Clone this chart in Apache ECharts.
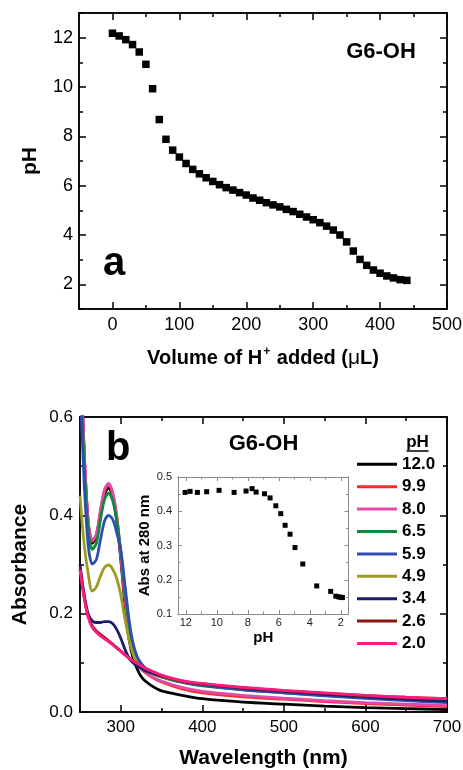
<!DOCTYPE html>
<html><head><meta charset="utf-8">
<script src="https://cdn.jsdelivr.net/npm/echarts@6/dist/echarts.min.js"></script>
<style>html,body{margin:0;padding:0;background:#fff}#c{width:463px;height:770px}</style>
</head><body><div id="c"></div>
<script>
// ---------- Panel a : titration curve ----------
const volumeAdded = [0,10,20,30,40,50,60,70,80,90,100,110,120,130,140,150,160,170,180,190,200,210,220,230,240,250,260,270,280,290,300,310,320,330,340,350,360,370,380,390,400,410,420,430,440];
const pHa = [12.18,12.07,11.92,11.72,11.42,10.92,9.93,8.68,7.88,7.44,7.16,6.90,6.66,6.48,6.32,6.17,6.04,5.92,5.82,5.72,5.62,5.50,5.41,5.31,5.22,5.14,5.04,4.95,4.84,4.73,4.62,4.50,4.36,4.20,4.00,3.72,3.35,3.01,2.77,2.58,2.45,2.34,2.26,2.19,2.16];
const aXTicks = [0,100,200,300,400,500];
const aXMinor = [-50,50,150,250,350,450];
const aYTicks = [2,4,6,8,10,12];
const aYMinor = [1,3,5,7,9,11,13];

// ---------- Panel b : UV-vis spectra ----------
const wavelengths = [250,255,260,265,270,275,280,285,290,295,300,305,310,315,320,325,330,340,350,375,400,450,500,550,600,650,700];
const abs120 = [0.76,0.53,0.385,0.343,0.357,0.403,0.443,0.456,0.44,0.39,0.31,0.22,0.15,0.11,0.088,0.072,0.063,0.051,0.043,0.034,0.027,0.020,0.016,0.012,0.009,0.007,0.005];
const abs99  = [0.76,0.535,0.388,0.347,0.36,0.407,0.449,0.462,0.445,0.398,0.318,0.233,0.168,0.122,0.1,0.088,0.08,0.069,0.061,0.047,0.039,0.031,0.026,0.021,0.017,0.014,0.011];
const abs80  = [0.76,0.538,0.39,0.349,0.362,0.41,0.452,0.465,0.447,0.4,0.32,0.235,0.17,0.123,0.101,0.089,0.081,0.07,0.063,0.05,0.042,0.034,0.028,0.023,0.019,0.016,0.013];
const abs65  = [0.72,0.51,0.37,0.331,0.343,0.39,0.432,0.445,0.43,0.39,0.328,0.25,0.18,0.13,0.108,0.096,0.088,0.078,0.071,0.06,0.053,0.045,0.039,0.034,0.029,0.025,0.022];
const abs59  = [0.68,0.47,0.34,0.301,0.31,0.35,0.388,0.4,0.392,0.365,0.33,0.26,0.19,0.14,0.113,0.099,0.09,0.08,0.073,0.061,0.054,0.045,0.039,0.033,0.028,0.023,0.019];
const abs49  = [0.44,0.343,0.282,0.246,0.254,0.276,0.294,0.299,0.291,0.272,0.238,0.19,0.148,0.118,0.1,0.091,0.085,0.077,0.072,0.062,0.057,0.049,0.043,0.038,0.034,0.03,0.027];
const abs34  = [0.30,0.24,0.20,0.185,0.182,0.182,0.184,0.184,0.18,0.168,0.15,0.128,0.11,0.1,0.094,0.089,0.084,0.078,0.073,0.063,0.057,0.048,0.042,0.036,0.031,0.026,0.022];
const abs26  = [0.29,0.235,0.195,0.175,0.165,0.158,0.152,0.145,0.138,0.131,0.124,0.117,0.11,0.104,0.099,0.094,0.089,0.081,0.074,0.063,0.057,0.049,0.043,0.038,0.033,0.029,0.026];
const abs20  = [0.29,0.233,0.193,0.172,0.162,0.155,0.149,0.143,0.137,0.13,0.123,0.116,0.11,0.104,0.099,0.094,0.089,0.082,0.075,0.064,0.058,0.05,0.044,0.039,0.034,0.03,0.027];
const spectraLabels = ['12.0','9.9','8.0','6.5','5.9','4.9','3.4','2.6','2.0'];
const spectraValues = [abs120,abs99,abs80,abs65,abs59,abs49,abs34,abs26,abs20];
const spectraColors = ['#000000','#ff2a2a','#e04aa8','#0a8a3c','#2f4fb0','#9c9c24','#1c1c70','#8a1414','#ff1a80'];
const bXTicks = [300,400,500,600,700];
const bXMinor = [250,350,450,550,650];
const bYTicks = [0,0.2,0.4,0.6];
const bYMinor = [0.1,0.3,0.5];

// ---------- Inset : Abs at 280 nm vs pH ----------
const insetPH  = [12.04,11.72,11.25,10.65,9.85,8.88,8.11,7.72,7.46,6.92,6.56,6.19,5.87,5.59,5.27,4.95,4.45,3.55,2.65,2.32,2.15,2.0,1.89];
const insetAbs = [0.455,0.458,0.455,0.457,0.461,0.455,0.459,0.466,0.456,0.451,0.439,0.416,0.393,0.359,0.333,0.294,0.246,0.182,0.166,0.152,0.150,0.149,0.148];
const iXTicks = [12,10,8,6,4,2];
const iXMinor = [11,9,7,5,3];
const iYTicks = [0.1,0.2,0.3,0.4,0.5];
const iYMinor = [0.15,0.25,0.35,0.45];

const FONT = 'Liberation Sans';
const xAxes = [], yAxes = [];
function mkAxis(list, o) {
  const a = {
    type: 'value', gridIndex: o.grid, position: o.pos, min: o.min, max: o.max,
    inverse: !!o.inverse,
    axisLine: {show: true, onZero: false, lineStyle: {color: o.color || '#000', width: o.lw || 1.5}},
    axisTick: {show: true, inside: true, length: o.len, customValues: o.ticks,
               lineStyle: {color: o.color || '#000', width: o.tw || 1.5}},
    axisLabel: {show: false},
    splitLine: {show: false}
  };
  if (o.labels) {
    a.axisLabel = {show: true, customValues: o.ticks, color: o.lcolor || '#000',
      fontFamily: FONT, fontSize: o.fs, margin: o.margin, formatter: o.fmt};
  }
  if (o.name) Object.assign(a, o.name);
  list.push(a);
  return list.length - 1;
}
function frame(grid, xr, yr, xt, xm, yt, ym, st) {
  const xi = mkAxis(xAxes, Object.assign({grid, pos: 'bottom', min: xr[0], max: xr[1], ticks: xt, len: st.maj, labels: true, fs: st.fs, margin: st.xm, fmt: st.xf, name: st.xname, inverse: st.xinv}, st.common));
  mkAxis(xAxes, Object.assign({grid, pos: 'bottom', min: xr[0], max: xr[1], ticks: xm, len: st.min, inverse: st.xinv}, st.common));
  mkAxis(xAxes, Object.assign({grid, pos: 'top', min: xr[0], max: xr[1], ticks: xt, len: st.maj, inverse: st.xinv}, st.common));
  mkAxis(xAxes, Object.assign({grid, pos: 'top', min: xr[0], max: xr[1], ticks: xm, len: st.min, inverse: st.xinv}, st.common));
  const yi = mkAxis(yAxes, Object.assign({grid, pos: 'left', min: yr[0], max: yr[1], ticks: yt, len: st.maj, labels: true, fs: st.fs, margin: st.ym, fmt: st.yf, name: st.yname}, st.common));
  mkAxis(yAxes, Object.assign({grid, pos: 'left', min: yr[0], max: yr[1], ticks: ym, len: st.min}, st.common));
  mkAxis(yAxes, Object.assign({grid, pos: 'right', min: yr[0], max: yr[1], ticks: yt, len: st.maj}, st.common));
  mkAxis(yAxes, Object.assign({grid, pos: 'right', min: yr[0], max: yr[1], ticks: ym, len: st.min}, st.common));
  return [xi, yi];
}

const boldName = (size) => ({fontFamily: FONT, fontWeight: 'bold', fontSize: size, color: '#000'});

const [axA, ayA] = frame(0, [-50, 500], [1, 13], aXTicks, aXMinor, aYTicks, aYMinor, {
  maj: 7, min: 4, fs: 18, xm: 7, ym: 6, xf: v => String(v), yf: v => String(v), common: {},
  xname: {name: 'Volume of H{sup|+} added ({mu|μ}L)', nameLocation: 'middle', nameGap: 37,
          nameTextStyle: Object.assign(boldName(20), {lineHeight: 24, rich: {
            sup: {fontFamily: FONT, fontWeight: 'bold', fontSize: 12, verticalAlign: 'top', lineHeight: 24, padding: [0,1,8,1]},
            mu: {fontFamily: FONT, fontWeight: 'normal', fontSize: 21, lineHeight: 24}}})},
  yname: {name: 'pH', nameLocation: 'middle', nameGap: 38, nameTextStyle: boldName(21)}
});
const [axB, ayB] = frame(1, [250, 700], [0, 0.6], bXTicks, bXMinor, bYTicks, bYMinor, {
  maj: 7, min: 4, fs: 17, xm: 7, ym: 7, xf: v => String(v), yf: v => v.toFixed(1), common: {},
  xname: {name: 'Wavelength (nm)', nameLocation: 'middle', nameGap: 36, nameTextStyle: boldName(21)},
  yname: {name: 'Absorbance', nameLocation: 'middle', nameGap: 49, nameTextStyle: boldName(21)}
});
const [axI, ayI] = frame(2, [1.5, 12.5], [0.1, 0.5], iXTicks, iXMinor, iYTicks, iYMinor, {
  maj: 4, min: 2.5, fs: 11, xm: 3, ym: 6, xf: v => String(v), yf: v => v.toFixed(1), xinv: true,
  common: {color: '#8a8a8a', lw: 1, tw: 1, lcolor: '#222'},
  xname: {name: 'pH', nameLocation: 'middle', nameGap: 16, nameTextStyle: boldName(15)},
  yname: {name: 'Abs at 280 nm', nameLocation: 'middle', nameGap: 23, nameTextStyle: boldName(15)}
});

const series = [];
series.push({
  type: 'scatter', xAxisIndex: axA, yAxisIndex: ayA, symbol: 'rect', symbolSize: 7.5,
  itemStyle: {color: '#000', opacity: 1}, data: volumeAdded.map((v, i) => [v, pHa[i]]), silent: true
});
spectraLabels.forEach((lab, k) => {
  series.push({
    type: 'line', name: lab, xAxisIndex: axB, yAxisIndex: ayB, color: spectraColors[k],
    showSymbol: false, smooth: 0.3, clip: true,
    lineStyle: {width: 2.8, color: spectraColors[k]},
    data: wavelengths.map((w, i) => [w, spectraValues[k][i]]), silent: true
  });
});
series.push({
  type: 'scatter', xAxisIndex: axI, yAxisIndex: ayI, symbol: 'rect', symbolSize: 5,
  itemStyle: {color: '#000', opacity: 1}, data: insetPH.map((p, i) => [p, insetAbs[i]]), silent: true
});

const chart = echarts.init(document.getElementById('c'), null, {renderer: 'canvas'});
chart.setOption({
  animation: false,
  backgroundColor: '#fff',
  grid: [
    {left: 79, right: 16, top: 13, bottom: 461, outerBoundsMode: 'none'},
    {left: 80, right: 16, top: 417, bottom: 58, outerBoundsMode: 'none'},
    {left: 178, top: 477, width: 170.5, height: 137, outerBoundsMode: 'none', show: true, backgroundColor: '#fff', borderWidth: 0}
  ],
  xAxis: xAxes,
  yAxis: yAxes,
  legend: {
    data: spectraLabels, orient: 'vertical', left: 357, top: 454.3, padding: 0,
    icon: 'rect', itemWidth: 40, itemHeight: 3, itemGap: 2.4, selectedMode: false,
    textStyle: {fontFamily: FONT, fontWeight: 'bold', fontSize: 17, color: '#000', lineHeight: 20}
  },
  graphic: [
    {type: 'text', x: 103, y: 264, style: {text: 'a', font: 'bold 40px "Liberation Sans"', fill: '#000', verticalAlign: 'middle'}},
    {type: 'text', x: 381, y: 52, style: {text: 'G6-OH', font: 'bold 22px "Liberation Sans"', fill: '#000', align: 'center', verticalAlign: 'middle'}},
    {type: 'text', x: 106, y: 449, style: {text: 'b', font: 'bold 40px "Liberation Sans"', fill: '#000', verticalAlign: 'middle'}},
    {type: 'text', x: 263.5, y: 444, style: {text: 'G6-OH', font: 'bold 22px "Liberation Sans"', fill: '#000', align: 'center', verticalAlign: 'middle'}},
    {type: 'text', x: 417.5, y: 442, style: {text: 'pH', font: 'bold 17px "Liberation Sans"', fill: '#000', align: 'center', verticalAlign: 'middle'}},
    {type: 'line', shape: {x1: 406.5, y1: 451, x2: 428.5, y2: 451}, style: {stroke: '#000', lineWidth: 1.5}}
  ],
  series
});
</script></body></html>
